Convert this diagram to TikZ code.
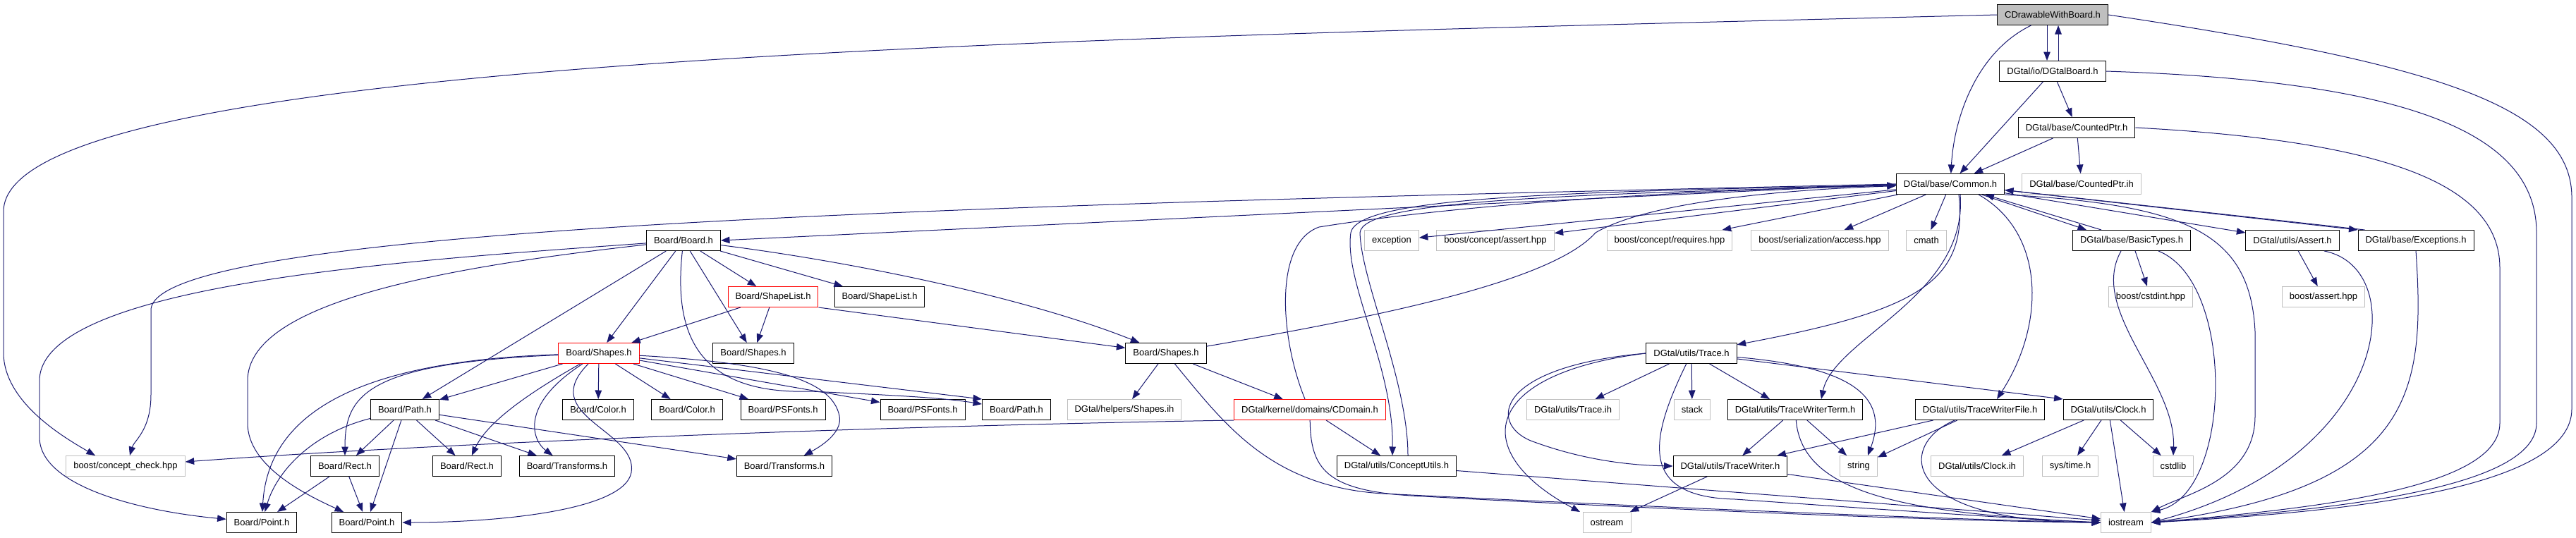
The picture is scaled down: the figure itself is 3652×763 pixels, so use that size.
\documentclass[tikz,border=0pt]{standalone}
\usepackage{fontspec}
\setmainfont{Liberation Sans}
\usepackage{xcolor}
\usepackage{tikz}
\usetikzlibrary{arrows.meta}
\definecolor{depBlue}{RGB}{25,25,112}
\definecolor{rootGray}{RGB}{191,191,191}
\definecolor{sysGray}{RGB}{191,191,191}
\definecolor{cycRed}{RGB}{255,0,0}

\tikzset{
  hdr/.style={draw=black, line width=1pt, fill=white, minimum height=29pt,
    inner xsep=10.5pt, inner ysep=0pt, font=\fontsize{13}{15}\selectfont},
  syshdr/.style={hdr, draw=sysGray},
  cychdr/.style={hdr, draw=cycRed},
  roothdr/.style={hdr, fill=rootGray},
  dep/.style={depBlue, line width=1pt, -{Triangle[length=12.5pt,width=9.5pt]}},
}

\begin{document}
\begin{tikzpicture}[x=1pt,y=-1pt]
    \useasboundingbox (0,0) rectangle (3652,763);

    % =========================
    % Nodes, one rank per line group
    % =========================
    \node[roothdr] (cdraw) at (2910,21) {CDrawableWithBoard.h};
    \node[hdr] (dgtalboard) at (2910,101) {DGtal/io/DGtalBoard.h};
    \node[hdr] (countedptr) at (2944,181) {DGtal/base/CountedPtr.h};

    \node[hdr] (common) at (2765,261) {DGtal/base/Common.h};
    \node[syshdr] (countedih) at (2951,261) {DGtal/base/CountedPtr.ih};

    \node[hdr] (board) at (969,341) {Board/Board.h};
    \node[syshdr] (exception) at (1973,341) {exception};
    \node[syshdr] (cassert) at (2120,341) {boost/concept/assert.hpp};
    \node[syshdr] (crequires) at (2367,341) {boost/concept/requires.hpp};
    \node[syshdr] (saccess) at (2580,341) {boost/serialization/access.hpp};
    \node[syshdr] (cmath) at (2731,341) {cmath};
    \node[hdr] (basictypes) at (3022,341) {DGtal/base/BasicTypes.h};
    \node[hdr] (assert) at (3250,341) {DGtal/utils/Assert.h};
    \node[hdr] (exceptions) at (3425,341) {DGtal/base/Exceptions.h};

    \node[cychdr] (shapelistA) at (1096,421) {Board/ShapeList.h};
    \node[hdr] (shapelistB) at (1247,421) {Board/ShapeList.h};
    \node[syshdr] (cstdint) at (3049,421) {boost/cstdint.hpp};
    \node[syshdr] (bassert) at (3294,421) {boost/assert.hpp};

    \node[cychdr] (shapesA) at (849,501) {Board/Shapes.h};
    \node[hdr] (shapesB) at (1068,501) {Board/Shapes.h};
    \node[hdr] (shapesC) at (1653,501) {Board/Shapes.h};
    \node[hdr] (trace) at (2398,501) {DGtal/utils/Trace.h};

    \node[hdr] (pathA) at (574,581) {Board/Path.h};
    \node[hdr] (colorA) at (848,581) {Board/Color.h};
    \node[hdr] (colorB) at (974,581) {Board/Color.h};
    \node[hdr] (psfontsA) at (1110,581) {Board/PSFonts.h};
    \node[hdr] (psfontsB) at (1308,581) {Board/PSFonts.h};
    \node[hdr] (pathB) at (1441,581) {Board/Path.h};
    \node[syshdr] (shapesih) at (1594,581) {DGtal/helpers/Shapes.ih};
    \node[cychdr] (cdomain) at (1857,581) {DGtal/kernel/domains/CDomain.h};
    \node[syshdr] (traceih) at (2230,581) {DGtal/utils/Trace.ih};
    \node[syshdr] (stack) at (2399,581) {stack};
    \node[hdr] (twterm) at (2545,581) {DGtal/utils/TraceWriterTerm.h};
    \node[hdr] (twfile) at (2807,581) {DGtal/utils/TraceWriterFile.h};
    \node[hdr] (clock) at (2989,581) {DGtal/utils/Clock.h};

    \node[syshdr] (conceptcheck) at (178,661) {boost/concept\_check.hpp};
    \node[hdr] (rectA) at (489,661) {Board/Rect.h};
    \node[hdr] (rectB) at (662,661) {Board/Rect.h};
    \node[hdr] (transformsA) at (804,661) {Board/Transforms.h};
    \node[hdr] (transformsB) at (1112,661) {Board/Transforms.h};
    \node[hdr] (conceptutils) at (1980,661) {DGtal/utils/ConceptUtils.h};
    \node[hdr] (twriter) at (2453,661) {DGtal/utils/TraceWriter.h};
    \node[syshdr] (string) at (2635,661) {string};
    \node[syshdr] (clockih) at (2803,661) {DGtal/utils/Clock.ih};
    \node[syshdr] (systime) at (2935,661) {sys/time.h};
    \node[syshdr] (cstdlib) at (3081,661) {cstdlib};

    \node[hdr] (pointA) at (371,741) {Board/Point.h};
    \node[hdr] (pointB) at (520,741) {Board/Point.h};
    \node[syshdr] (ostream) at (2278,741) {ostream};
    \node[syshdr] (iostream) at (3014,741) {iostream};

    % =========================
    % Top of the graph
    % =========================
    \draw[dep] ([xshift=-8pt]cdraw.south) -- ([xshift=-8pt]dgtalboard.north);
    \draw[dep] ([xshift=8pt]dgtalboard.north) -- ([xshift=8pt]cdraw.south);
    \draw[dep] (cdraw) .. controls (2800,75) and (2770,170) .. (common);
    \draw[dep] (cdraw.east) .. controls (3450,90) and (3646,150) .. (3646,280)
        -- (3646,580) .. controls (3646,690) and (3350,725) .. (iostream.east);
    \draw[dep] (cdraw.west) .. controls (1500,55) and (5,80) .. (5,300)
        -- (5,500) .. controls (5,570) and (90,620) .. ([xshift=-43pt]conceptcheck.north);

    \foreach \a/\b in {dgtalboard/common, dgtalboard/countedptr,
                       countedptr/common, countedptr/countedih}
        \draw[dep] (\a) -- (\b);
    \draw[dep] (dgtalboard.east) .. controls (3420,115) and (3596,190) .. (3596,330)
        -- (3596,600) .. controls (3596,690) and (3330,722) .. (iostream.east);
    \draw[dep] (countedptr.east) .. controls (3380,200) and (3544,260) .. (3544,380)
        -- (3544,600) .. controls (3544,690) and (3300,720) .. (iostream.east);

    % =========================
    % Common.h
    % =========================
    \foreach \b in {exception, cassert, crequires, saccess, cmath, assert}
        \draw[dep] (common) -- (\b);
    \draw[dep] (common.west) -- (board.east);
    \draw[dep] (common.west) .. controls (1400,290) and (214,320) .. (214,440)
        -- (214,560) .. controls (214,610) and (190,625) .. ([xshift=6pt]conceptcheck.north);
    \draw[dep] (common) -- ([xshift=-64pt]basictypes.north);
    \draw[dep] ([xshift=-43pt]basictypes.north) -- (common);
    \draw[dep] (common) -- (exceptions.north west);
    \draw[dep] ([xshift=10pt]exceptions.north west) -- (common);
    \draw[dep] (common.south east) .. controls (3100,290) and (3190,330) .. (3197,470)
        -- (3197,590) .. controls (3197,680) and (3100,700) .. (iostream.north east);
    \draw[dep] ([xshift=12pt]common.south) .. controls (2790,400) and (2720,440) .. (trace);
    \draw[dep] ([xshift=14pt]common.south) .. controls (2790,420) and (2600,480) .. ([xshift=37pt]twterm.north);
    \draw[dep] ([xshift=40pt]common.south) .. controls (2900,330) and (2900,460) .. ([xshift=24pt]twfile.north);
    \draw[dep] (common) .. controls (2200,272) and (1925,280) .. (1915,330)
        .. controls (1905,400) and (1976,520) .. ([xshift=-6pt]conceptutils.north);
    \draw[dep] ([xshift=16pt]conceptutils.north) .. controls (1996,540) and (1930,400) .. (1928,330)
        .. controls (1932,285) and (2200,276) .. (common);

    % =========================
    % Board/Board.h and the Board headers
    % =========================
    \foreach \b in {pathA, shapesA, shapesB, shapelistA, shapelistB}
        \draw[dep] (board) -- (\b);
    \draw[dep] (board) .. controls (1200,370) and (1450,420) .. (shapesC);
    \draw[dep] (board) .. controls (955,470) and (985,560) .. (1150,555)
        .. controls (1250,560) and (1330,563) .. (pathB);
    \draw[dep] (board) .. controls (600,368) and (56,400) .. (56,540)
        -- (56,620) .. controls (56,690) and (200,725) .. (pointA);
    \draw[dep] (board) .. controls (620,380) and (351,430) .. (351,540)
        -- (351,600) .. controls (351,660) and (430,700) .. (pointB);

    \draw[dep] (shapelistA) -- (shapesA);
    \draw[dep] (shapelistA) -- (shapesB);
    \draw[dep] (shapelistA.south east) -- (shapesC);

    \foreach \b in {pathA, colorA, colorB, psfontsA, psfontsB}
        \draw[dep] (shapesA) -- (\b);
    \draw[dep] (shapesA) -- (pathB.north west);
    \draw[dep] (shapesA) .. controls (520,515) and (489,560) .. (rectA);
    \draw[dep] (shapesA) .. controls (500,512) and (380,590) .. (pointA);
    \draw[dep] (shapesA) .. controls (745,560) and (690,600) .. (rectB);
    \draw[dep] (shapesA) .. controls (735,575) and (755,625) .. (transformsA);
    \draw[dep] (shapesA) .. controls (760,590) and (905,610) .. (895,670)
        .. controls (885,725) and (700,741) .. (pointB.east);
    \draw[dep] (shapesA) .. controls (1100,515) and (1180,540) .. (1190,590)
        .. controls (1195,615) and (1160,635) .. (transformsB);

    \foreach \b in {rectA, pointB, rectB, transformsA, transformsB}
        \draw[dep] (pathA) -- (\b);
    \draw[dep] (pathA) .. controls (440,615) and (392,670) .. (pointA);
    \draw[dep] (rectA) -- (pointA);
    \draw[dep] (rectA) -- (pointB);

    % =========================
    % helpers and domains
    % =========================
    \draw[dep] (shapesC) -- (shapesih);
    \draw[dep] (shapesC) -- (cdomain);
    \draw[dep] (shapesC) .. controls (1950,450) and (2200,400) .. (2262,330)
        .. controls (2330,290) and (2500,270) .. (common);
    \draw[dep] (shapesC) .. controls (1735,600) and (1800,690) .. (1960,700)
        .. controls (2400,722) and (2800,738) .. (iostream.west);

    \draw[dep] (cdomain) -- (conceptutils);
    \draw[dep] ([xshift=-7pt]cdomain.north) .. controls (1815,480) and (1805,345) .. (1870,322)
        .. controls (2100,285) and (2450,268) .. (common);
    \draw[dep] (cdomain.south west) .. controls (1200,605) and (600,630) .. ([yshift=6pt]conceptcheck.east);
    \draw[dep] (cdomain) .. controls (1858,665) and (1880,695) .. (2000,703)
        .. controls (2400,725) and (2800,740) .. (iostream.west);
    \draw[dep] (conceptutils) -- (iostream);

    % =========================
    % Trace and its writers
    % =========================
    \foreach \b in {traceih, stack}
        \draw[dep] (trace) -- (\b);
    \draw[dep] (trace) -- ([xshift=-36pt]twterm.north);
    \draw[dep] (trace) -- (clock.north west);
    \draw[dep] (trace) .. controls (2620,520) and (2680,560) .. ([xshift=13pt]string.north);
    \draw[dep] (trace.west) .. controls (2120,520) and (2110,600) .. (2170,625)
        .. controls (2250,655) and (2320,660) .. (twriter.west);
    \draw[dep] (trace.west) .. controls (2100,530) and (2080,640) .. ([xshift=-38pt]ostream.north);
    \draw[dep] (trace) .. controls (2340,620) and (2320,705) .. (2460,708)
        .. controls (2700,725) and (2900,738) .. (iostream.west);

    \draw[dep] (twterm) -- (twriter);
    \draw[dep] (twterm) -- (string);
    \draw[dep] (twterm) .. controls (2555,700) and (2700,728) .. (iostream.west);
    \draw[dep] (twfile) -- (twriter);
    \draw[dep] (twfile) -- (string);
    \draw[dep] (twfile) .. controls (2690,630) and (2690,740) .. (iostream.west);
    \draw[dep] (twriter) -- (ostream);
    \draw[dep] (twriter) -- (iostream);

    \foreach \b in {clockih, systime, cstdlib, iostream}
        \draw[dep] (clock) -- (\b);

    % =========================
    % base types, assertions, exceptions
    % =========================
    \draw[dep] (basictypes) -- (cstdint);
    \draw[dep] ([xshift=-15pt]basictypes.south) .. controls (2960,440) and (3085,540) .. (cstdlib.north);
    \draw[dep] ([xshift=38pt]basictypes.south) .. controls (3170,400) and (3165,700) .. (iostream.north east);
    \draw[dep] (assert) -- (bassert);
    \draw[dep] ([xshift=45pt]assert.south) .. controls (3420,380) and (3390,650) .. (iostream.east);
    \draw[dep] (exceptions.south) .. controls (3439,560) and (3420,690) .. (iostream.east);

\end{tikzpicture}
\end{document}
